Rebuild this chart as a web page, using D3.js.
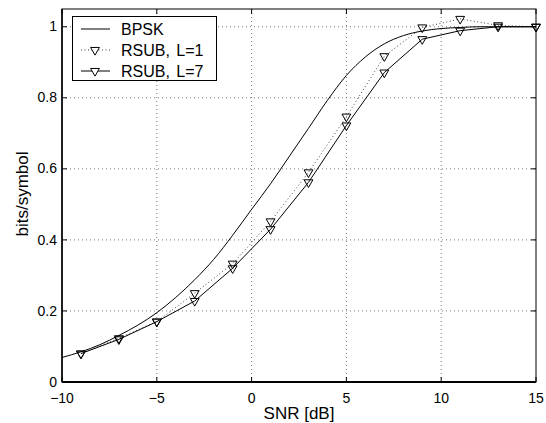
<!DOCTYPE html>
<html>
<head>
<meta charset="utf-8">
<script src="https://cdn.jsdelivr.net/npm/d3@7"></script>
<style>
  body { margin: 0; background: #fff; }
  text { font-family: "Liberation Sans", Arial, Helvetica, sans-serif; }
</style>
</head>
<body>
<div id="chart"></div>
<script>
// SNR in dB for the marked series
var snrMarks = [-9, -7, -5, -3, -1, 1, 3, 5, 7, 9, 11, 13, 15]
var rsubL1 = [0.08, 0.123, 0.17, 0.25, 0.333, 0.452, 0.59, 0.747, 0.917, 0.998, 1.022, 1.004, 1.0]
var rsubL7 = [0.08, 0.12, 0.17, 0.228, 0.32, 0.43, 0.562, 0.722, 0.871, 0.965, 0.989, 1.0, 1.0]

// BPSK curve read at each dB
var snrBpsk = [-10, -9, -8, -7, -6, -5, -4, -3, -2, -1, 0, 1, 2, 3, 4, 5, 6, 7, 8, 9, 10, 11, 12, 13, 14, 15]
var bpsk = [0.069, 0.085, 0.105, 0.131, 0.16, 0.195, 0.238, 0.288, 0.345, 0.413, 0.486, 0.558, 0.636, 0.714, 0.793, 0.863, 0.915, 0.952, 0.975, 0.988, 0.995, 0.998, 1.0, 1.0, 1.0, 1.0]

var xTicks = [-10, -5, 0, 5, 10, 15]
var yTicks = [0, 0.2, 0.4, 0.6, 0.8, 1]
var legendNames = ["BPSK", "RSUB, L=1", "RSUB, L=7"]

var width = 546, height = 423
var margin = {top: 9, left: 62, bottom: 41, right: 10}
var chartWidth = width - margin.left - margin.right
var chartHeight = height - margin.top - margin.bottom

var svg = d3.select("#chart").append("svg")
  .attr("width", width)
  .attr("height", height)

var x = d3.scaleLinear().domain([-10, 15]).range([margin.left, margin.left + chartWidth])
var y = d3.scaleLinear().domain([0, 1.05]).range([margin.top + chartHeight, margin.top])

var x0 = x.range()[0], x1 = x.range()[1]
var y0 = y.range()[0], y1 = y.range()[1]

// grid
var grid = svg.append("g")
grid.selectAll(".gx").data(xTicks.slice(1, -1)).enter().append("line")
  .attr("x1", d => x(d)).attr("x2", d => x(d))
  .attr("y1", y0).attr("y2", y1)
  .attr("stroke", "#555").attr("stroke-width", 0.8)
  .attr("stroke-dasharray", "1,3")
grid.selectAll(".gy").data(yTicks.slice(1)).enter().append("line")
  .attr("y1", d => y(d)).attr("y2", d => y(d))
  .attr("x1", x0).attr("x2", x1)
  .attr("stroke", "#555").attr("stroke-width", 0.8)
  .attr("stroke-dasharray", "1,3")

// ticks inside, all four sides
var tickLen = 5
var ticks = svg.append("g").attr("stroke", "#000").attr("stroke-width", 1)
xTicks.forEach(function(t){
  ticks.append("line").attr("x1", x(t)).attr("x2", x(t)).attr("y1", y0).attr("y2", y0 - tickLen)
  ticks.append("line").attr("x1", x(t)).attr("x2", x(t)).attr("y1", y1).attr("y2", y1 + tickLen)
})
yTicks.forEach(function(t){
  ticks.append("line").attr("y1", y(t)).attr("y2", y(t)).attr("x1", x0).attr("x2", x0 + tickLen)
  ticks.append("line").attr("y1", y(t)).attr("y2", y(t)).attr("x1", x1).attr("x2", x1 - tickLen)
})

// tick labels
svg.append("g").selectAll("text").data(xTicks).enter().append("text")
  .attr("x", d => x(d)).attr("y", y0 + 20.5)
  .attr("text-anchor", "middle").attr("font-size", 14)
  .text(d => d < 0 ? "\u2212" + Math.abs(d) : d)
svg.append("g").selectAll("text").data(yTicks).enter().append("text")
  .attr("x", x0 - 5).attr("y", d => y(d) + 4.6)
  .attr("text-anchor", "end").attr("font-size", 14)
  .text(d => d)

svg.append("text").attr("x", (x0 + x1) / 2).attr("y", 419)
  .attr("text-anchor", "middle").attr("font-size", 17).text("SNR [dB]")
svg.append("text")
  .attr("transform", "translate(28,194) rotate(-90)")
  .attr("text-anchor", "middle").attr("font-size", 17).text("bits/symbol")

// curves
var clipId = "plotclip"
svg.append("clipPath").attr("id", clipId).append("rect")
  .attr("x", x0).attr("y", y1).attr("width", x1 - x0).attr("height", y0 - y1)
var plot = svg.append("g").attr("clip-path", "url(#" + clipId + ")")

var bpskLine = d3.line().x((d, i) => x(snrBpsk[i])).y(d => y(d)).curve(d3.curveMonotoneX)
var markLine = d3.line().x((d, i) => x(snrMarks[i])).y(d => y(d))

plot.append("path").datum(bpsk).attr("d", bpskLine)
  .attr("fill", "none").attr("stroke", "#000").attr("stroke-width", 1)
plot.append("path").datum(rsubL1).attr("d", markLine)
  .attr("fill", "none").attr("stroke", "#444").attr("stroke-width", 1)
  .attr("stroke-dasharray", "1,2.5")
plot.append("path").datum(rsubL7).attr("d", markLine)
  .attr("fill", "none").attr("stroke", "#000").attr("stroke-width", 1)

var tri = d3.symbol().type(d3.symbolTriangle).size(34)
function drawMarkers(vals) {
  svg.append("g").selectAll("path").data(vals).enter().append("path")
    .attr("d", tri)
    .attr("transform", (d, i) => "translate(" + x(snrMarks[i]) + "," + y(d) + ") rotate(180)")
    .attr("fill", "none").attr("stroke", "#000").attr("stroke-width", 1)
}
drawMarkers(rsubL1)
drawMarkers(rsubL7)

// axes box
svg.append("rect").attr("x", x0).attr("y", y1).attr("width", x1 - x0).attr("height", y0 - y1)
  .attr("fill", "none").attr("stroke", "#000").attr("stroke-width", 1)
svg.append("line").attr("x1", x0).attr("x2", x1).attr("y1", y0).attr("y2", y0)
  .attr("stroke", "#000").attr("stroke-width", 2)
svg.append("line").attr("x1", x0).attr("x2", x0).attr("y1", y0).attr("y2", y1)
  .attr("stroke", "#000").attr("stroke-width", 1.5)

// legend
var lg = svg.append("g")
lg.append("rect").attr("x", 72.5).attr("y", 16.5).attr("width", 144).attr("height", 64)
  .attr("fill", "#fff").attr("stroke", "#000").attr("stroke-width", 1)
var rowY = [29, 50, 71]
legendNames.forEach(function(name, i){
  var ln = lg.append("line").attr("x1", 81).attr("x2", 110).attr("y1", rowY[i]).attr("y2", rowY[i])
    .attr("stroke", i == 1 ? "#444" : "#000").attr("stroke-width", 1)
  if (i == 1) ln.attr("stroke-dasharray", "1,2.5")
  if (i > 0) {
    lg.append("path").attr("d", tri)
      .attr("transform", "translate(95," + rowY[i] + ") rotate(180)")
      .attr("fill", "#fff").attr("stroke", "#000").attr("stroke-width", 1)
  }
  var t = lg.append("text").attr("x", 121).attr("y", rowY[i] + 5.5)
    .attr("font-size", 16).text(name)
  if (i > 0) t.style("word-spacing", "2px")
})
</script>
</body>
</html>
